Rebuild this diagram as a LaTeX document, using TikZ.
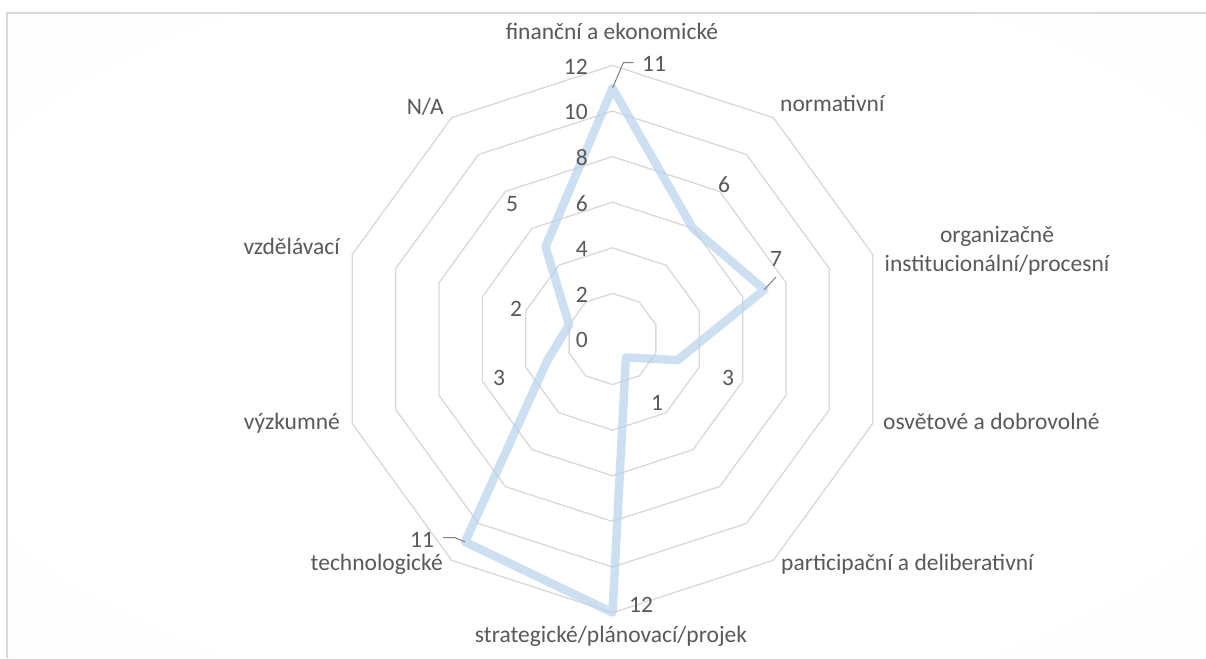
\documentclass[tikz,border=0pt]{standalone}
\usepackage{fontspec}
\setmainfont{Carlito}
\usetikzlibrary{calc}
\definecolor{txt}{HTML}{595959}
\definecolor{gridc}{HTML}{D9D9D9}
\definecolor{framec}{HTML}{D9D9D9}
\definecolor{bggray}{HTML}{F0F0F0}
\definecolor{serblue}{RGB}{184,211,236}
\definecolor{leaderc}{HTML}{808080}
\pgfdeclareradialshading{bgshade}{\pgfpoint{0bp}{0bp}}{color(0bp)=(white); color(28bp)=(white); color(71bp)=(bggray)}
\begin{document}
\begin{tikzpicture}[x=1pt,y=-1pt,
  lbl/.style={font=\fontsize{23.5}{28.7}\selectfont, text=txt, inner sep=0pt},
  gridline/.style={draw=gridc, line width=1.3pt, line join=round},
  series/.style={draw=serblue, draw opacity=0.7, line width=8.5pt, line join=round},
  leaderline/.style={draw=leaderc, line width=1pt}]

\useasboundingbox (0,0) rectangle (1206,658);
\fill[white] (0,0) rectangle (1206,658);
\shade[shading=bgshade] (8,14) rectangle (1206,658);
\draw[framec, line width=2pt] (7,658) -- (7,13) -- (1206,13);

\coordinate (c) at (612.5,339);
\def\u{22.8}
\foreach \k in {1,...,6}{
  \draw[gridline] ($(c)+(-90:{\k*2*\u})$)
    \foreach \i in {1,...,9}{ -- ($(c)+({-90+36*\i}:{\k*2*\u})$)} -- cycle;
}

\foreach \v [count=\i from 0] in {11,6,7,3,1,12,11,3,2,5}
  \coordinate (p\i) at ($(c)+({-90+36*\i}:{\v*\u})$);

\draw[series] (p0) -- (p1) -- (p2) -- (p3) -- (p4) -- (p5) -- (p6) -- (p7) -- (p8) -- (p9) -- cycle;

% axis labels
\foreach \k in {0,2,...,12}
  \node[lbl, anchor=east] (ax\k) at (588,{339-\k*\u+1}) {\k};

% value labels
\node[lbl] (v0) at (654,64) {11};
\node[lbl] (v1) at (724,185) {6};
\node[lbl] (v2) at (776,259) {7};
\node[lbl] (v3) at (728,378) {3};
\node[lbl] (v4) at (657,403) {1};
\node[lbl] (v5) at (641,605) {12};
\node[lbl] (v6) at (422,540) {11};
\node[lbl] (v7) at (499,378) {3};
\node[lbl] (v8) at (516,309) {2};
\node[lbl] (v9) at (512,204) {5};

% leader lines
\coordinate (l0a) at (623.3,62.7);
\coordinate (l0b) at (633.7,62.7);
\draw[leaderline] (p0) -- (l0a) -- (l0b);
\coordinate (l2a) at (776,277);
\draw[leaderline] (p2) -- (l2a);
\coordinate (l6a) at (455,537.7);
\coordinate (l6b) at (443,537.7);
\draw[leaderline] (p6) -- (l6a) -- (l6b);

% category labels
\node[lbl, anchor=mid] (cat0) at (612,37) {finanční a ekonomické};
\node[lbl, anchor=mid west] (cat1) at (780,109) {normativní};
\node[lbl, align=center] (cat2) at (997,251) {organizačně\\institucionální/procesní};
\node[lbl, anchor=mid west] (cat3) at (883,427) {osvětové a dobrovolné};
\node[lbl, anchor=mid west] (cat4) at (781,568) {participační a deliberativní};
\node[lbl, anchor=mid] (cat5) at (611,640) {strategické/plánovací/projek};
\node[lbl, anchor=mid east] (cat6) at (443,568) {technologické};
\node[lbl, anchor=mid east] (cat7) at (340,427) {výzkumné};
\node[lbl, anchor=mid east] (cat8) at (340,252) {vzdělávací};
\node[lbl, anchor=mid east] (cat9) at (444,112) {N/A};
\end{tikzpicture}
\end{document}
